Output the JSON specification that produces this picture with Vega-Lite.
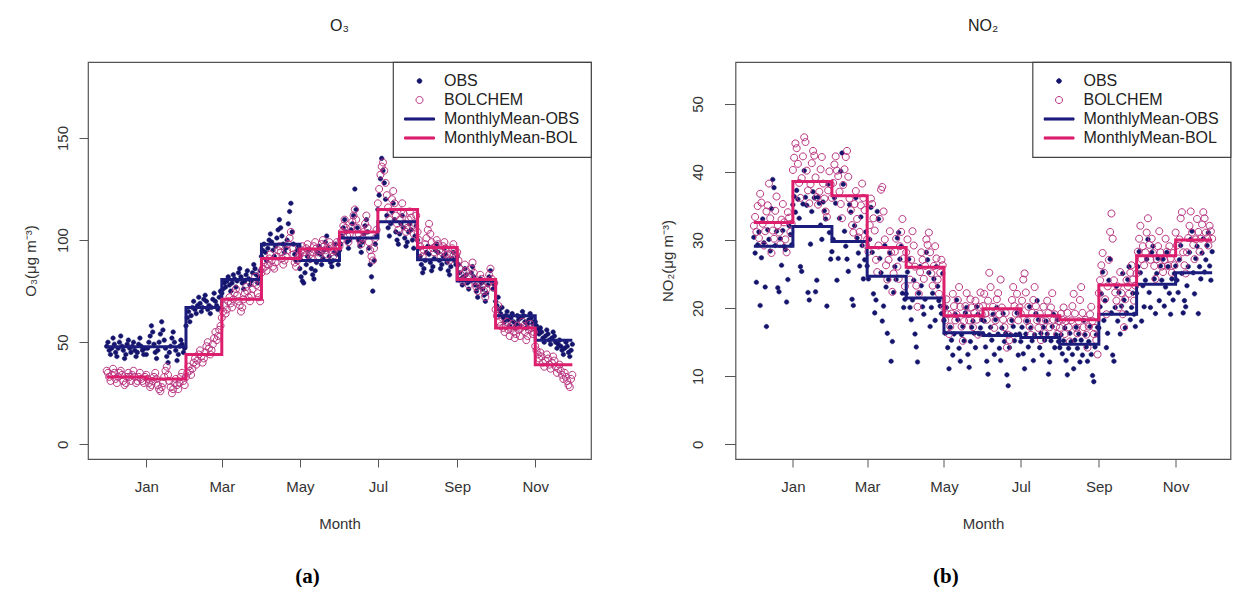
{
"$schema":"https://vega.github.io/schema/vega-lite/v6.json",
"background":"white",
"padding":{"left":22,"top":17,"right":0,"bottom":0},
"spacing":66.5,
"resolve":{"scale":{"fill":"independent","stroke":"independent","shape":"independent"}},
"config":{
 "view":{"stroke":"#555","strokeWidth":1.2},
 "axis":{"domain":false,"grid":false,"tickColor":"#555","labelFont":"Liberation Sans","labelFontSize":15,"labelColor":"#333","titleFont":"Liberation Sans","titleFontSize":15,"titleFontWeight":"normal","titleColor":"#333"},
 "legend":{"orient":"top-right","offset":0,"padding":11,"strokeColor":"#444","strokeWidth":1.2,"fillColor":"white","labelFont":"Liberation Sans","labelFontSize":16,"labelColor":"#222","labelOffset":9,"rowPadding":3,"clipHeight":16,"symbolSize":900,"symbolStrokeWidth":1,"titleFontSize":0,"titlePadding":0}
},
"datasets":{
"daily":[
{"d":"2009-12-01","o3o":48,"o3b":36,"no2o":30.4,"no2b":32.1},
{"d":"2009-12-02","o3o":50,"o3b":35,"no2o":28.1,"no2b":33.4},
{"d":"2009-12-03","o3o":46,"o3b":33,"no2o":23.8,"no2b":31.2},
{"d":"2009-12-04","o3o":44,"o3b":31,"no2o":29.3,"no2b":35.0},
{"d":"2009-12-05","o3o":47,"o3b":34,"no2o":31.2,"no2b":30.3},
{"d":"2009-12-06","o3o":52,"o3b":37,"no2o":20.4,"no2b":36.8},
{"d":"2009-12-07","o3o":49,"o3b":35,"no2o":27.4,"no2b":35.5},
{"d":"2009-12-08","o3o":45,"o3b":32,"no2o":33.1,"no2b":32.4},
{"d":"2009-12-09","o3o":43,"o3b":30,"no2o":29.6,"no2b":29.2},
{"d":"2009-12-10","o3o":47,"o3b":33,"no2o":23.1,"no2b":31.3},
{"d":"2009-12-11","o3o":50,"o3b":35,"no2o":17.3,"no2b":34.2},
{"d":"2009-12-12","o3o":53,"o3b":36,"no2o":31.5,"no2b":35.1},
{"d":"2009-12-13","o3o":48,"o3b":34,"no2o":30.1,"no2b":38.3},
{"d":"2009-12-14","o3o":46,"o3b":31,"no2o":28.4,"no2b":33.2},
{"d":"2009-12-15","o3o":42,"o3b":29,"no2o":34.6,"no2b":28.1},
{"d":"2009-12-16","o3o":44,"o3b":30,"no2o":38.9,"no2b":31.4},
{"d":"2009-12-17","o3o":49,"o3b":33,"no2o":37.7,"no2b":30.2},
{"d":"2009-12-18","o3o":51,"o3b":35,"no2o":29.2,"no2b":34.3},
{"d":"2009-12-19","o3o":47,"o3b":33,"no2o":31.3,"no2b":36.4},
{"d":"2009-12-20","o3o":45,"o3b":31,"no2o":23.0,"no2b":32.2},
{"d":"2009-12-21","o3o":48,"o3b":34,"no2o":22.4,"no2b":31.1},
{"d":"2009-12-22","o3o":50,"o3b":36,"no2o":30.2,"no2b":29.4},
{"d":"2009-12-23","o3o":46,"o3b":33,"no2o":26.3,"no2b":33.0},
{"d":"2009-12-24","o3o":43,"o3b":30,"no2o":31.4,"no2b":35.3},
{"d":"2009-12-25","o3o":45,"o3b":31,"no2o":29.1,"no2b":32.6},
{"d":"2009-12-26","o3o":49,"o3b":33,"no2o":28.6,"no2b":30.1},
{"d":"2009-12-27","o3o":52,"o3b":35,"no2o":20.9,"no2b":28.2},
{"d":"2009-12-28","o3o":48,"o3b":32,"no2o":24.2,"no2b":34.1},
{"d":"2009-12-29","o3o":46,"o3b":31,"no2o":32.1,"no2b":33.3},
{"d":"2009-12-30","o3o":44,"o3b":30,"no2o":30.8,"no2b":31.2},
{"d":"2009-12-31","o3o":47,"o3b":33,"no2o":29.3,"no2b":32.4},
{"d":"2010-01-01","o3o":44,"o3b":34,"no2o":35.2,"no2b":40.3},
{"d":"2010-01-02","o3o":47,"o3b":32,"no2o":36.4,"no2b":42.1},
{"d":"2010-01-03","o3o":50,"o3b":30,"no2o":34.1,"no2b":44.2},
{"d":"2010-01-04","o3o":53,"o3b":28,"no2o":37.3,"no2b":43.5},
{"d":"2010-01-05","o3o":58,"o3b":29,"no2o":36.0,"no2b":41.2},
{"d":"2010-01-06","o3o":55,"o3b":31,"no2o":33.2,"no2b":38.4},
{"d":"2010-01-07","o3o":49,"o3b":33,"no2o":26.1,"no2b":36.2},
{"d":"2010-01-08","o3o":45,"o3b":35,"no2o":25.4,"no2b":39.1},
{"d":"2010-01-09","o3o":42,"o3b":32,"no2o":35.3,"no2b":42.3},
{"d":"2010-01-10","o3o":46,"o3b":29,"no2o":40.2,"no2b":45.1},
{"d":"2010-01-11","o3o":50,"o3b":27,"no2o":36.3,"no2b":44.4},
{"d":"2010-01-12","o3o":54,"o3b":26,"no2o":35.1,"no2b":40.2},
{"d":"2010-01-13","o3o":60,"o3b":28,"no2o":22.3,"no2b":37.3},
{"d":"2010-01-14","o3o":56,"o3b":30,"no2o":21.2,"no2b":35.4},
{"d":"2010-01-15","o3o":51,"o3b":33,"no2o":29.4,"no2b":38.2},
{"d":"2010-01-16","o3o":47,"o3b":36,"no2o":34.2,"no2b":41.3},
{"d":"2010-01-17","o3o":43,"o3b":38,"no2o":37.1,"no2b":43.1},
{"d":"2010-01-18","o3o":40,"o3b":34,"no2o":36.2,"no2b":42.4},
{"d":"2010-01-19","o3o":45,"o3b":31,"no2o":22.4,"no2b":39.2},
{"d":"2010-01-20","o3o":48,"o3b":28,"no2o":24.1,"no2b":36.3},
{"d":"2010-01-21","o3o":52,"o3b":25,"no2o":36.3,"no2b":35.2},
{"d":"2010-01-22","o3o":55,"o3b":27,"no2o":35.4,"no2b":37.1},
{"d":"2010-01-23","o3o":50,"o3b":30,"no2o":32.2,"no2b":40.4},
{"d":"2010-01-24","o3o":46,"o3b":32,"no2o":30.1,"no2b":42.2},
{"d":"2010-01-25","o3o":41,"o3b":29,"no2o":35.6,"no2b":38.3},
{"d":"2010-01-26","o3o":44,"o3b":27,"no2o":34.3,"no2b":36.1},
{"d":"2010-01-27","o3o":48,"o3b":30,"no2o":33.1,"no2b":34.2},
{"d":"2010-01-28","o3o":51,"o3b":33,"no2o":20.3,"no2b":33.4},
{"d":"2010-01-29","o3o":49,"o3b":35,"no2o":38.2,"no2b":37.3},
{"d":"2010-01-30","o3o":45,"o3b":31,"no2o":31.1,"no2b":40.1},
{"d":"2010-01-31","o3o":47,"o3b":29,"no2o":27.2,"no2b":38.2},
{"d":"2010-02-01","o3o":58,"o3b":33,"no2o":28.3,"no2b":36.2},
{"d":"2010-02-02","o3o":62,"o3b":35,"no2o":30.1,"no2b":38.4},
{"d":"2010-02-03","o3o":65,"o3b":38,"no2o":36.2,"no2b":41.1},
{"d":"2010-02-04","o3o":60,"o3b":36,"no2o":35.4,"no2b":42.3},
{"d":"2010-02-05","o3o":63,"o3b":34,"no2o":24.1,"no2b":40.2},
{"d":"2010-02-06","o3o":67,"o3b":37,"no2o":27.3,"no2b":39.4},
{"d":"2010-02-07","o3o":70,"o3b":40,"no2o":33.2,"no2b":37.1},
{"d":"2010-02-08","o3o":66,"o3b":42,"no2o":40.1,"no2b":35.3},
{"d":"2010-02-09","o3o":64,"o3b":39,"no2o":42.8,"no2b":33.2},
{"d":"2010-02-10","o3o":68,"o3b":41,"no2o":38.2,"no2b":38.1},
{"d":"2010-02-11","o3o":72,"o3b":44,"no2o":31.3,"no2b":40.4},
{"d":"2010-02-12","o3o":69,"o3b":46,"no2o":29.1,"no2b":42.2},
{"d":"2010-02-13","o3o":65,"o3b":43,"no2o":27.2,"no2b":43.1},
{"d":"2010-02-14","o3o":67,"o3b":40,"no2o":25.4,"no2b":39.3},
{"d":"2010-02-15","o3o":71,"o3b":42,"no2o":35.2,"no2b":36.1},
{"d":"2010-02-16","o3o":73,"o3b":45,"no2o":34.1,"no2b":34.4},
{"d":"2010-02-17","o3o":70,"o3b":48,"no2o":21.3,"no2b":32.2},
{"d":"2010-02-18","o3o":66,"o3b":50,"no2o":20.4,"no2b":31.1},
{"d":"2010-02-19","o3o":68,"o3b":47,"no2o":32.1,"no2b":35.3},
{"d":"2010-02-20","o3o":64,"o3b":44,"no2o":36.2,"no2b":37.2},
{"d":"2010-02-21","o3o":67,"o3b":46,"no2o":30.3,"no2b":33.1},
{"d":"2010-02-22","o3o":71,"o3b":49,"no2o":28.1,"no2b":30.4},
{"d":"2010-02-23","o3o":74,"o3b":52,"no2o":26.2,"no2b":31.2},
{"d":"2010-02-24","o3o":70,"o3b":55,"no2o":33.4,"no2b":35.1},
{"d":"2010-02-25","o3o":68,"o3b":51,"no2o":29.2,"no2b":38.3},
{"d":"2010-02-26","o3o":66,"o3b":53,"no2o":24.3,"no2b":36.2},
{"d":"2010-02-27","o3o":72,"o3b":56,"no2o":27.1,"no2b":34.4},
{"d":"2010-02-28","o3o":75,"o3b":58,"no2o":31.2,"no2b":29.3},
{"d":"2010-03-01","o3o":74,"o3b":62,"no2o":26.2,"no2b":30.1},
{"d":"2010-03-02","o3o":76,"o3b":65,"no2o":24.3,"no2b":28.3},
{"d":"2010-03-03","o3o":79,"o3b":68,"no2o":30.1,"no2b":32.2},
{"d":"2010-03-04","o3o":77,"o3b":64,"no2o":34.8,"no2b":36.1},
{"d":"2010-03-05","o3o":80,"o3b":66,"no2o":28.2,"no2b":35.3},
{"d":"2010-03-06","o3o":82,"o3b":70,"no2o":22.1,"no2b":33.2},
{"d":"2010-03-07","o3o":78,"o3b":72,"no2o":19.3,"no2b":31.4},
{"d":"2010-03-08","o3o":75,"o3b":69,"no2o":21.2,"no2b":27.1},
{"d":"2010-03-09","o3o":79,"o3b":67,"no2o":34.2,"no2b":25.3},
{"d":"2010-03-10","o3o":83,"o3b":71,"no2o":33.1,"no2b":29.2},
{"d":"2010-03-11","o3o":81,"o3b":74,"no2o":27.3,"no2b":33.1},
{"d":"2010-03-12","o3o":77,"o3b":76,"no2o":25.2,"no2b":37.4},
{"d":"2010-03-13","o3o":80,"o3b":73,"no2o":18.1,"no2b":37.8},
{"d":"2010-03-14","o3o":84,"o3b":70,"no2o":20.3,"no2b":34.2},
{"d":"2010-03-15","o3o":86,"o3b":68,"no2o":29.2,"no2b":30.1},
{"d":"2010-03-16","o3o":82,"o3b":65,"no2o":23.1,"no2b":26.3},
{"d":"2010-03-17","o3o":79,"o3b":67,"no2o":16.3,"no2b":24.2},
{"d":"2010-03-18","o3o":76,"o3b":71,"no2o":24.2,"no2b":27.1},
{"d":"2010-03-19","o3o":80,"o3b":74,"no2o":28.1,"no2b":31.3},
{"d":"2010-03-20","o3o":83,"o3b":77,"no2o":12.2,"no2b":28.2},
{"d":"2010-03-21","o3o":85,"o3b":75,"no2o":15.1,"no2b":22.4},
{"d":"2010-03-22","o3o":81,"o3b":72,"no2o":22.3,"no2b":25.1},
{"d":"2010-03-23","o3o":78,"o3b":70,"no2o":26.1,"no2b":28.3},
{"d":"2010-03-24","o3o":80,"o3b":73,"no2o":24.2,"no2b":30.2},
{"d":"2010-03-25","o3o":84,"o3b":76,"no2o":30.3,"no2b":26.1},
{"d":"2010-03-26","o3o":88,"o3b":79,"no2o":31.1,"no2b":24.3},
{"d":"2010-03-27","o3o":86,"o3b":82,"no2o":27.2,"no2b":29.1},
{"d":"2010-03-28","o3o":83,"o3b":78,"no2o":29.1,"no2b":31.2},
{"d":"2010-03-29","o3o":79,"o3b":74,"no2o":22.2,"no2b":33.1},
{"d":"2010-03-30","o3o":82,"o3b":72,"no2o":20.1,"no2b":27.3},
{"d":"2010-03-31","o3o":85,"o3b":70,"no2o":21.3,"no2b":23.2},
{"d":"2010-04-01","o3o":92,"o3b":84,"no2o":22.1,"no2b":28.2},
{"d":"2010-04-02","o3o":95,"o3b":86,"no2o":25.3,"no2b":30.1},
{"d":"2010-04-03","o3o":98,"o3b":89,"no2o":27.2,"no2b":26.3},
{"d":"2010-04-04","o3o":94,"o3b":87,"no2o":20.1,"no2b":24.2},
{"d":"2010-04-05","o3o":90,"o3b":85,"no2o":18.3,"no2b":27.1},
{"d":"2010-04-06","o3o":96,"o3b":88,"no2o":21.2,"no2b":31.3},
{"d":"2010-04-07","o3o":100,"o3b":91,"no2o":24.1,"no2b":29.2},
{"d":"2010-04-08","o3o":103,"o3b":93,"no2o":16.2,"no2b":26.1},
{"d":"2010-04-09","o3o":99,"o3b":90,"no2o":14.3,"no2b":23.3},
{"d":"2010-04-10","o3o":95,"o3b":87,"no2o":12.1,"no2b":20.2},
{"d":"2010-04-11","o3o":92,"o3b":86,"no2o":22.2,"no2b":22.1},
{"d":"2010-04-12","o3o":97,"o3b":89,"no2o":26.1,"no2b":25.3},
{"d":"2010-04-13","o3o":101,"o3b":92,"no2o":23.3,"no2b":28.2},
{"d":"2010-04-14","o3o":105,"o3b":95,"no2o":20.2,"no2b":27.1},
{"d":"2010-04-15","o3o":110,"o3b":97,"no2o":19.1,"no2b":24.3},
{"d":"2010-04-16","o3o":106,"o3b":94,"no2o":21.3,"no2b":26.2},
{"d":"2010-04-17","o3o":102,"o3b":91,"no2o":28.2,"no2b":30.1},
{"d":"2010-04-18","o3o":98,"o3b":88,"no2o":27.1,"no2b":29.3},
{"d":"2010-04-19","o3o":94,"o3b":90,"no2o":25.2,"no2b":31.1},
{"d":"2010-04-20","o3o":96,"o3b":92,"no2o":17.3,"no2b":28.2},
{"d":"2010-04-21","o3o":100,"o3b":95,"no2o":20.1,"no2b":25.1},
{"d":"2010-04-22","o3o":108,"o3b":98,"no2o":22.2,"no2b":23.3},
{"d":"2010-04-23","o3o":114,"o3b":101,"no2o":24.3,"no2b":26.2},
{"d":"2010-04-24","o3o":118,"o3b":104,"no2o":18.2,"no2b":29.1},
{"d":"2010-04-25","o3o":104,"o3b":96,"no2o":26.1,"no2b":27.3},
{"d":"2010-04-26","o3o":98,"o3b":93,"no2o":23.2,"no2b":24.2},
{"d":"2010-04-27","o3o":93,"o3b":89,"no2o":21.1,"no2b":22.1},
{"d":"2010-04-28","o3o":90,"o3b":87,"no2o":20.3,"no2b":25.2},
{"d":"2010-04-29","o3o":95,"o3b":90,"no2o":19.2,"no2b":27.1},
{"d":"2010-04-30","o3o":97,"o3b":92,"no2o":25.1,"no2b":26.3},
{"d":"2010-05-01","o3o":86,"o3b":93,"no2o":18.2,"no2b":20.1},
{"d":"2010-05-02","o3o":82,"o3b":95,"no2o":16.3,"no2b":18.2},
{"d":"2010-05-03","o3o":80,"o3b":97,"no2o":20.1,"no2b":21.3},
{"d":"2010-05-04","o3o":79,"o3b":94,"no2o":14.2,"no2b":19.1},
{"d":"2010-05-05","o3o":84,"o3b":92,"no2o":11.1,"no2b":16.2},
{"d":"2010-05-06","o3o":88,"o3b":96,"no2o":17.2,"no2b":17.3},
{"d":"2010-05-07","o3o":92,"o3b":98,"no2o":15.3,"no2b":19.2},
{"d":"2010-05-08","o3o":95,"o3b":95,"no2o":13.1,"no2b":22.1},
{"d":"2010-05-09","o3o":90,"o3b":93,"no2o":16.2,"no2b":20.3},
{"d":"2010-05-10","o3o":86,"o3b":91,"no2o":19.1,"no2b":18.2},
{"d":"2010-05-11","o3o":83,"o3b":94,"no2o":21.2,"no2b":19.1},
{"d":"2010-05-12","o3o":81,"o3b":97,"no2o":18.3,"no2b":21.2},
{"d":"2010-05-13","o3o":85,"o3b":99,"no2o":14.1,"no2b":23.1},
{"d":"2010-05-14","o3o":89,"o3b":96,"no2o":12.2,"no2b":20.2},
{"d":"2010-05-15","o3o":94,"o3b":94,"no2o":16.1,"no2b":17.3},
{"d":"2010-05-16","o3o":97,"o3b":92,"no2o":17.3,"no2b":15.2},
{"d":"2010-05-17","o3o":93,"o3b":95,"no2o":15.2,"no2b":18.1},
{"d":"2010-05-18","o3o":88,"o3b":98,"no2o":19.3,"no2b":20.3},
{"d":"2010-05-19","o3o":91,"o3b":100,"no2o":20.1,"no2b":22.2},
{"d":"2010-05-20","o3o":95,"o3b":97,"no2o":13.2,"no2b":19.1},
{"d":"2010-05-21","o3o":99,"o3b":95,"no2o":11.3,"no2b":18.2},
{"d":"2010-05-22","o3o":102,"o3b":93,"no2o":15.1,"no2b":21.3},
{"d":"2010-05-23","o3o":96,"o3b":96,"no2o":17.2,"no2b":20.1},
{"d":"2010-05-24","o3o":92,"o3b":99,"no2o":18.1,"no2b":17.2},
{"d":"2010-05-25","o3o":89,"o3b":97,"no2o":16.3,"no2b":19.3},
{"d":"2010-05-26","o3o":87,"o3b":94,"no2o":14.2,"no2b":21.1},
{"d":"2010-05-27","o3o":90,"o3b":92,"no2o":20.2,"no2b":18.3},
{"d":"2010-05-28","o3o":94,"o3b":95,"no2o":19.1,"no2b":16.1},
{"d":"2010-05-29","o3o":98,"o3b":97,"no2o":16.2,"no2b":20.2},
{"d":"2010-05-30","o3o":93,"o3b":99,"no2o":17.1,"no2b":22.3},
{"d":"2010-05-31","o3o":88,"o3b":96,"no2o":18.3,"no2b":19.1},
{"d":"2010-06-01","o3o":95,"o3b":97,"no2o":16.2,"no2b":20.3},
{"d":"2010-06-02","o3o":98,"o3b":100,"no2o":18.1,"no2b":22.1},
{"d":"2010-06-03","o3o":102,"o3b":104,"no2o":14.3,"no2b":19.2},
{"d":"2010-06-04","o3o":106,"o3b":107,"no2o":12.2,"no2b":18.3},
{"d":"2010-06-05","o3o":110,"o3b":110,"no2o":10.3,"no2b":21.1},
{"d":"2010-06-06","o3o":104,"o3b":106,"no2o":16.1,"no2b":25.2},
{"d":"2010-06-07","o3o":99,"o3b":102,"no2o":17.2,"no2b":23.1},
{"d":"2010-06-08","o3o":96,"o3b":99,"no2o":15.3,"no2b":19.3},
{"d":"2010-06-09","o3o":100,"o3b":103,"no2o":19.1,"no2b":20.2},
{"d":"2010-06-10","o3o":105,"o3b":106,"no2o":13.2,"no2b":17.1},
{"d":"2010-06-11","o3o":108,"o3b":109,"no2o":18.3,"no2b":18.2},
{"d":"2010-06-12","o3o":112,"o3b":112,"no2o":20.1,"no2b":21.3},
{"d":"2010-06-13","o3o":125,"o3b":115,"no2o":16.2,"no2b":22.2},
{"d":"2010-06-14","o3o":115,"o3b":110,"no2o":14.1,"no2b":19.1},
{"d":"2010-06-15","o3o":106,"o3b":106,"no2o":12.3,"no2b":24.2},
{"d":"2010-06-16","o3o":100,"o3b":103,"no2o":17.1,"no2b":20.1},
{"d":"2010-06-17","o3o":97,"o3b":100,"no2o":19.2,"no2b":18.3},
{"d":"2010-06-18","o3o":94,"o3b":98,"no2o":15.1,"no2b":17.2},
{"d":"2010-06-19","o3o":99,"o3b":101,"no2o":16.3,"no2b":19.3},
{"d":"2010-06-20","o3o":103,"o3b":104,"no2o":10.2,"no2b":14.2},
{"d":"2010-06-21","o3o":107,"o3b":108,"no2o":8.6,"no2b":16.1},
{"d":"2010-06-22","o3o":110,"o3b":112,"no2o":14.2,"no2b":15.3},
{"d":"2010-06-23","o3o":104,"o3b":106,"no2o":16.1,"no2b":18.1},
{"d":"2010-06-24","o3o":96,"o3b":99,"no2o":18.2,"no2b":21.2},
{"d":"2010-06-25","o3o":88,"o3b":95,"no2o":17.3,"no2b":23.1},
{"d":"2010-06-26","o3o":82,"o3b":92,"no2o":15.2,"no2b":20.3},
{"d":"2010-06-27","o3o":75,"o3b":90,"no2o":16.1,"no2b":19.2},
{"d":"2010-06-28","o3o":90,"o3b":96,"no2o":19.3,"no2b":22.1},
{"d":"2010-06-29","o3o":98,"o3b":101,"no2o":13.1,"no2b":18.2},
{"d":"2010-06-30","o3o":102,"o3b":105,"no2o":16.2,"no2b":20.1},
{"d":"2010-07-01","o3o":115,"o3b":118,"no2o":15.1,"no2b":19.2},
{"d":"2010-07-02","o3o":122,"o3b":125,"no2o":17.2,"no2b":21.1},
{"d":"2010-07-03","o3o":130,"o3b":132,"no2o":13.3,"no2b":24.2},
{"d":"2010-07-04","o3o":140,"o3b":136,"no2o":11.1,"no2b":25.1},
{"d":"2010-07-05","o3o":134,"o3b":138,"no2o":16.2,"no2b":22.3},
{"d":"2010-07-06","o3o":128,"o3b":134,"no2o":18.1,"no2b":18.1},
{"d":"2010-07-07","o3o":120,"o3b":128,"no2o":14.3,"no2b":20.2},
{"d":"2010-07-08","o3o":112,"o3b":122,"no2o":20.2,"no2b":17.3},
{"d":"2010-07-09","o3o":106,"o3b":116,"no2o":17.1,"no2b":16.1},
{"d":"2010-07-10","o3o":102,"o3b":110,"no2o":15.2,"no2b":19.3},
{"d":"2010-07-11","o3o":108,"o3b":114,"no2o":12.3,"no2b":21.2},
{"d":"2010-07-12","o3o":114,"o3b":120,"no2o":16.1,"no2b":23.1},
{"d":"2010-07-13","o3o":118,"o3b":124,"no2o":19.2,"no2b":20.3},
{"d":"2010-07-14","o3o":110,"o3b":118,"no2o":21.1,"no2b":18.2},
{"d":"2010-07-15","o3o":104,"o3b":112,"no2o":18.3,"no2b":17.1},
{"d":"2010-07-16","o3o":100,"o3b":108,"no2o":14.2,"no2b":19.2},
{"d":"2010-07-17","o3o":98,"o3b":105,"no2o":16.3,"no2b":15.3},
{"d":"2010-07-18","o3o":103,"o3b":110,"no2o":13.1,"no2b":18.1},
{"d":"2010-07-19","o3o":108,"o3b":114,"no2o":17.2,"no2b":20.2},
{"d":"2010-07-20","o3o":112,"o3b":118,"no2o":15.3,"no2b":16.3},
{"d":"2010-07-21","o3o":106,"o3b":113,"no2o":18.1,"no2b":18.2},
{"d":"2010-07-22","o3o":101,"o3b":108,"no2o":16.2,"no2b":21.1},
{"d":"2010-07-23","o3o":97,"o3b":104,"no2o":10.3,"no2b":19.3},
{"d":"2010-07-24","o3o":99,"o3b":106,"no2o":12.1,"no2b":17.2},
{"d":"2010-07-25","o3o":104,"o3b":110,"no2o":15.2,"no2b":20.1},
{"d":"2010-07-26","o3o":108,"o3b":114,"no2o":17.3,"no2b":22.2},
{"d":"2010-07-27","o3o":105,"o3b":111,"no2o":19.1,"no2b":18.3},
{"d":"2010-07-28","o3o":100,"o3b":107,"no2o":14.2,"no2b":19.1},
{"d":"2010-07-29","o3o":96,"o3b":103,"no2o":16.1,"no2b":17.3},
{"d":"2010-07-30","o3o":102,"o3b":108,"no2o":18.3,"no2b":16.2},
{"d":"2010-07-31","o3o":107,"o3b":112,"no2o":15.1,"no2b":18.1},
{"d":"2010-08-01","o3o":100,"o3b":104,"no2o":14.2,"no2b":17.1},
{"d":"2010-08-02","o3o":96,"o3b":100,"no2o":16.1,"no2b":19.2},
{"d":"2010-08-03","o3o":92,"o3b":97,"no2o":13.3,"no2b":18.3},
{"d":"2010-08-04","o3o":88,"o3b":94,"no2o":15.2,"no2b":20.1},
{"d":"2010-08-05","o3o":84,"o3b":92,"no2o":17.1,"no2b":16.2},
{"d":"2010-08-06","o3o":86,"o3b":95,"no2o":12.3,"no2b":18.1},
{"d":"2010-08-07","o3o":90,"o3b":98,"no2o":10.2,"no2b":19.3},
{"d":"2010-08-08","o3o":94,"o3b":101,"no2o":14.1,"no2b":17.2},
{"d":"2010-08-09","o3o":97,"o3b":105,"no2o":16.3,"no2b":15.1},
{"d":"2010-08-10","o3o":93,"o3b":108,"no2o":15.1,"no2b":18.2},
{"d":"2010-08-11","o3o":89,"o3b":103,"no2o":13.2,"no2b":20.3},
{"d":"2010-08-12","o3o":85,"o3b":99,"no2o":11.1,"no2b":22.1},
{"d":"2010-08-13","o3o":87,"o3b":96,"no2o":15.3,"no2b":19.2},
{"d":"2010-08-14","o3o":91,"o3b":94,"no2o":17.2,"no2b":17.1},
{"d":"2010-08-15","o3o":95,"o3b":97,"no2o":14.1,"no2b":16.3},
{"d":"2010-08-16","o3o":98,"o3b":100,"no2o":16.2,"no2b":18.1},
{"d":"2010-08-17","o3o":94,"o3b":98,"no2o":12.1,"no2b":21.2},
{"d":"2010-08-18","o3o":90,"o3b":95,"no2o":15.3,"no2b":23.1},
{"d":"2010-08-19","o3o":86,"o3b":92,"no2o":13.1,"no2b":19.3},
{"d":"2010-08-20","o3o":88,"o3b":94,"no2o":18.2,"no2b":17.2},
{"d":"2010-08-21","o3o":92,"o3b":97,"no2o":16.1,"no2b":18.3},
{"d":"2010-08-22","o3o":96,"o3b":99,"no2o":14.3,"no2b":16.1},
{"d":"2010-08-23","o3o":93,"o3b":96,"no2o":12.2,"no2b":14.2},
{"d":"2010-08-24","o3o":89,"o3b":93,"no2o":15.1,"no2b":17.3},
{"d":"2010-08-25","o3o":85,"o3b":91,"no2o":17.3,"no2b":19.1},
{"d":"2010-08-26","o3o":83,"o3b":90,"no2o":13.2,"no2b":20.2},
{"d":"2010-08-27","o3o":87,"o3b":93,"no2o":10.1,"no2b":18.1},
{"d":"2010-08-28","o3o":91,"o3b":96,"no2o":9.2,"no2b":16.2},
{"d":"2010-08-29","o3o":94,"o3b":98,"no2o":14.3,"no2b":17.1},
{"d":"2010-08-30","o3o":90,"o3b":95,"no2o":16.1,"no2b":15.3},
{"d":"2010-08-31","o3o":88,"o3b":93,"no2o":17.2,"no2b":13.2},
{"d":"2010-09-01","o3o":92,"o3b":94,"no2o":17.1,"no2b":22.2},
{"d":"2010-09-02","o3o":88,"o3b":90,"no2o":20.2,"no2b":24.1},
{"d":"2010-09-03","o3o":84,"o3b":86,"no2o":22.1,"no2b":26.3},
{"d":"2010-09-04","o3o":81,"o3b":83,"no2o":25.3,"no2b":28.1},
{"d":"2010-09-05","o3o":78,"o3b":80,"no2o":18.2,"no2b":25.2},
{"d":"2010-09-06","o3o":82,"o3b":84,"no2o":21.1,"no2b":21.3},
{"d":"2010-09-07","o3o":86,"o3b":88,"no2o":14.2,"no2b":19.1},
{"d":"2010-09-08","o3o":83,"o3b":85,"no2o":16.3,"no2b":23.2},
{"d":"2010-09-09","o3o":79,"o3b":81,"no2o":24.1,"no2b":27.1},
{"d":"2010-09-10","o3o":76,"o3b":78,"no2o":27.2,"no2b":31.2},
{"d":"2010-09-11","o3o":80,"o3b":82,"no2o":19.3,"no2b":33.9},
{"d":"2010-09-12","o3o":84,"o3b":86,"no2o":13.1,"no2b":30.2},
{"d":"2010-09-13","o3o":87,"o3b":89,"no2o":12.2,"no2b":24.1},
{"d":"2010-09-14","o3o":82,"o3b":84,"no2o":20.1,"no2b":22.3},
{"d":"2010-09-15","o3o":78,"o3b":80,"no2o":23.2,"no2b":21.1},
{"d":"2010-09-16","o3o":75,"o3b":77,"no2o":18.1,"no2b":23.2},
{"d":"2010-09-17","o3o":72,"o3b":75,"no2o":22.3,"no2b":20.1},
{"d":"2010-09-18","o3o":77,"o3b":79,"no2o":16.2,"no2b":25.3},
{"d":"2010-09-19","o3o":81,"o3b":83,"no2o":20.3,"no2b":22.2},
{"d":"2010-09-20","o3o":79,"o3b":81,"no2o":25.1,"no2b":19.1},
{"d":"2010-09-21","o3o":76,"o3b":78,"no2o":21.2,"no2b":17.2},
{"d":"2010-09-22","o3o":73,"o3b":75,"no2o":17.1,"no2b":21.3},
{"d":"2010-09-23","o3o":70,"o3b":72,"no2o":19.3,"no2b":24.1},
{"d":"2010-09-24","o3o":74,"o3b":76,"no2o":24.2,"no2b":23.2},
{"d":"2010-09-25","o3o":78,"o3b":79,"no2o":26.1,"no2b":22.1},
{"d":"2010-09-26","o3o":82,"o3b":83,"no2o":18.3,"no2b":25.2},
{"d":"2010-09-27","o3o":85,"o3b":86,"no2o":20.1,"no2b":26.3},
{"d":"2010-09-28","o3o":80,"o3b":81,"no2o":22.2,"no2b":24.2},
{"d":"2010-09-29","o3o":76,"o3b":77,"no2o":19.1,"no2b":21.1},
{"d":"2010-09-30","o3o":78,"o3b":79,"no2o":17.3,"no2b":23.3},
{"d":"2010-10-01","o3o":70,"o3b":66,"no2o":22.2,"no2b":25.1},
{"d":"2010-10-02","o3o":68,"o3b":63,"no2o":26.1,"no2b":28.3},
{"d":"2010-10-03","o3o":72,"o3b":68,"no2o":28.3,"no2b":30.2},
{"d":"2010-10-04","o3o":66,"o3b":60,"no2o":25.2,"no2b":32.1},
{"d":"2010-10-05","o3o":64,"o3b":58,"no2o":18.1,"no2b":27.2},
{"d":"2010-10-06","o3o":67,"o3b":62,"no2o":23.3,"no2b":29.1},
{"d":"2010-10-07","o3o":62,"o3b":57,"no2o":20.2,"no2b":26.3},
{"d":"2010-10-08","o3o":60,"o3b":55,"no2o":24.1,"no2b":28.2},
{"d":"2010-10-09","o3o":63,"o3b":58,"no2o":27.2,"no2b":31.1},
{"d":"2010-10-10","o3o":65,"o3b":60,"no2o":30.1,"no2b":33.2},
{"d":"2010-10-11","o3o":61,"o3b":56,"no2o":22.3,"no2b":29.3},
{"d":"2010-10-12","o3o":58,"o3b":53,"no2o":20.1,"no2b":27.1},
{"d":"2010-10-13","o3o":62,"o3b":57,"no2o":28.2,"no2b":30.2},
{"d":"2010-10-14","o3o":64,"o3b":59,"no2o":29.1,"no2b":28.1},
{"d":"2010-10-15","o3o":60,"o3b":55,"no2o":24.3,"no2b":26.2},
{"d":"2010-10-16","o3o":57,"o3b":52,"no2o":19.2,"no2b":24.3},
{"d":"2010-10-17","o3o":59,"o3b":54,"no2o":25.1,"no2b":27.2},
{"d":"2010-10-18","o3o":63,"o3b":58,"no2o":27.3,"no2b":29.1},
{"d":"2010-10-19","o3o":61,"o3b":56,"no2o":21.1,"no2b":31.3},
{"d":"2010-10-20","o3o":58,"o3b":53,"no2o":26.2,"no2b":28.2},
{"d":"2010-10-21","o3o":62,"o3b":57,"no2o":24.1,"no2b":26.1},
{"d":"2010-10-22","o3o":65,"o3b":60,"no2o":27.2,"no2b":25.3},
{"d":"2010-10-23","o3o":63,"o3b":58,"no2o":20.3,"no2b":27.1},
{"d":"2010-10-24","o3o":60,"o3b":55,"no2o":23.1,"no2b":30.2},
{"d":"2010-10-25","o3o":57,"o3b":51,"no2o":28.2,"no2b":28.3},
{"d":"2010-10-26","o3o":59,"o3b":53,"no2o":26.1,"no2b":26.2},
{"d":"2010-10-27","o3o":61,"o3b":56,"no2o":22.2,"no2b":29.1},
{"d":"2010-10-28","o3o":64,"o3b":59,"no2o":19.1,"no2b":27.3},
{"d":"2010-10-29","o3o":62,"o3b":57,"no2o":24.3,"no2b":25.2},
{"d":"2010-10-30","o3o":59,"o3b":54,"no2o":21.2,"no2b":28.1},
{"d":"2010-10-31","o3o":60,"o3b":55,"no2o":25.1,"no2b":26.3},
{"d":"2010-11-01","o3o":60,"o3b":48,"no2o":26.2,"no2b":31.1},
{"d":"2010-11-02","o3o":58,"o3b":46,"no2o":24.1,"no2b":29.2},
{"d":"2010-11-03","o3o":56,"o3b":44,"no2o":22.3,"no2b":27.3},
{"d":"2010-11-04","o3o":54,"o3b":42,"no2o":27.1,"no2b":30.1},
{"d":"2010-11-05","o3o":57,"o3b":45,"no2o":29.2,"no2b":33.2},
{"d":"2010-11-06","o3o":55,"o3b":43,"no2o":25.1,"no2b":34.1},
{"d":"2010-11-07","o3o":52,"o3b":40,"no2o":19.3,"no2b":28.2},
{"d":"2010-11-08","o3o":50,"o3b":38,"no2o":21.1,"no2b":26.3},
{"d":"2010-11-09","o3o":53,"o3b":41,"no2o":20.2,"no2b":25.1},
{"d":"2010-11-10","o3o":56,"o3b":44,"no2o":23.3,"no2b":28.2},
{"d":"2010-11-11","o3o":54,"o3b":42,"no2o":26.1,"no2b":30.3},
{"d":"2010-11-12","o3o":51,"o3b":39,"no2o":28.2,"no2b":32.1},
{"d":"2010-11-13","o3o":49,"o3b":37,"no2o":30.1,"no2b":34.2},
{"d":"2010-11-14","o3o":52,"o3b":40,"no2o":31.3,"no2b":31.1},
{"d":"2010-11-15","o3o":55,"o3b":43,"no2o":25.2,"no2b":29.3},
{"d":"2010-11-16","o3o":53,"o3b":41,"no2o":22.1,"no2b":27.2},
{"d":"2010-11-17","o3o":50,"o3b":38,"no2o":27.3,"no2b":30.1},
{"d":"2010-11-18","o3o":47,"o3b":35,"no2o":29.1,"no2b":33.1},
{"d":"2010-11-19","o3o":49,"o3b":37,"no2o":19.2,"no2b":31.2},
{"d":"2010-11-20","o3o":51,"o3b":39,"no2o":26.1,"no2b":28.3},
{"d":"2010-11-21","o3o":48,"o3b":36,"no2o":24.3,"no2b":30.2},
{"d":"2010-11-22","o3o":46,"o3b":34,"no2o":28.1,"no2b":32.3},
{"d":"2010-11-23","o3o":44,"o3b":32,"no2o":30.2,"no2b":34.1},
{"d":"2010-11-24","o3o":47,"o3b":35,"no2o":25.3,"no2b":33.2},
{"d":"2010-11-25","o3o":50,"o3b":33,"no2o":27.1,"no2b":31.1},
{"d":"2010-11-26","o3o":48,"o3b":31,"no2o":29.2,"no2b":30.3},
{"d":"2010-11-27","o3o":45,"o3b":29,"no2o":31.1,"no2b":29.2},
{"d":"2010-11-28","o3o":43,"o3b":28,"no2o":26.2,"no2b":32.1},
{"d":"2010-11-29","o3o":46,"o3b":32,"no2o":24.1,"no2b":31.3},
{"d":"2010-11-30","o3o":49,"o3b":34,"no2o":28.3,"no2b":30.2}
],
"monthly":[
{"d":"2009-12-01","o3o":47.8,"o3b":33,"no2o":29.1,"no2b":32.6},
{"d":"2010-01-01","o3o":47.8,"o3b":32,"no2o":32,"no2b":38.6},
{"d":"2010-02-01","o3o":67,"o3b":44,"no2o":29.8,"no2b":36.5},
{"d":"2010-03-01","o3o":80.7,"o3b":71,"no2o":24.7,"no2b":28.9},
{"d":"2010-04-01","o3o":98,"o3b":91,"no2o":21.5,"no2b":26},
{"d":"2010-05-01","o3o":90,"o3b":95.6,"no2o":16.4,"no2b":18.9},
{"d":"2010-06-01","o3o":101,"o3b":104,"no2o":16,"no2b":19.9},
{"d":"2010-07-01","o3o":109,"o3b":115,"no2o":15.7,"no2b":18.9},
{"d":"2010-08-01","o3o":90.4,"o3b":96.4,"no2o":14.7,"no2b":18.3},
{"d":"2010-09-01","o3o":80,"o3b":80.7,"no2o":19.1,"no2b":23.4},
{"d":"2010-10-01","o3o":63,"o3b":57,"no2o":23.5,"no2b":27.7},
{"d":"2010-11-01","o3o":51,"o3b":39,"no2o":25.2,"no2b":30},
{"d":"2010-11-30","o3o":51,"o3b":39,"no2o":25.2,"no2b":30}
]
},
"hconcat":[
{"vconcat":[
 {"width":503,"height":397,
  "title":{"text":"O₃","frame":"group","anchor":"middle","offset":27,"fontSize":16,"font":"Liberation Sans","fontWeight":"normal","color":"#222"},
  "layer":[
   {"data":{"name":"daily"},"mark":{"type":"point","filled":true,"opacity":1,"strokeWidth":0.5,"size":900},
    "encoding":{
     "x":{"field":"d","type":"temporal","title":"Month",
      "scale":{"type":"utc","nice":false,"domain":[{"year":2009,"month":11,"date":16,"hours":10,"utc":true},{"year":2010,"month":12,"date":14,"hours":14,"utc":true}]},
      "axis":{"values":[{"year":2010,"month":1,"date":1,"utc":true},{"year":2010,"month":3,"date":1,"utc":true},{"year":2010,"month":5,"date":1,"utc":true},{"year":2010,"month":7,"date":1,"utc":true},{"year":2010,"month":9,"date":1,"utc":true},{"year":2010,"month":11,"date":1,"utc":true}],
       "labelExpr":"utcFormat(datum.value, '%b')","tickSize":8,"labelPadding":12,"titlePadding":22}},
     "y":{"field":"o3o","type":"quantitative","title":"O₃(μg m⁻³)",
      "scale":{"domain":[-7.2,187.2],"nice":false,"zero":false},
      "axis":{"values":[0,50,100,150],"labelAngle":-90,"labelAlign":"center","labelBaseline":"bottom","tickSize":9,"labelPadding":8.5,"titlePadding":17}},
     "fill":{"datum":"OBS","scale":{"domain":["OBS","BOLCHEM","MonthlyMean-OBS","MonthlyMean-BOL"],"range":["#14146c","transparent","#1c1c7c","#dc1e6c"]}},
     "stroke":{"datum":"OBS","scale":{"domain":["OBS","BOLCHEM","MonthlyMean-OBS","MonthlyMean-BOL"],"range":["#14146c","#b8327f","#1c1c7c","#dc1e6c"]}},
     "shape":{"datum":"OBS","scale":{"domain":["OBS","BOLCHEM","MonthlyMean-OBS","MonthlyMean-BOL"],"range":["M-0.153,0A0.153,0.153,0,1,1,0.153,0A0.153,0.153,0,1,1,-0.153,0Z","M-0.233,0A0.233,0.233,0,1,1,0.233,0A0.233,0.233,0,1,1,-0.233,0Z","M-1,-0.07H1V0.07H-1Z","M-1,-0.07H1V0.07H-1Z"]}}
    }},
   {"data":{"name":"daily"},"mark":{"type":"point","filled":false,"opacity":1,"strokeWidth":1,"size":900},
    "encoding":{"x":{"field":"d","type":"temporal"},"y":{"field":"o3b","type":"quantitative"},
     "fill":{"datum":"BOLCHEM"},"stroke":{"datum":"BOLCHEM"},"shape":{"datum":"BOLCHEM"}}},
   {"data":{"name":"monthly"},"mark":{"type":"line","interpolate":"step-after","strokeWidth":3},
    "encoding":{"x":{"field":"d","type":"temporal"},"y":{"field":"o3o","type":"quantitative"},"stroke":{"datum":"MonthlyMean-OBS"}}},
   {"data":{"name":"monthly"},"mark":{"type":"line","interpolate":"step-after","strokeWidth":3},
    "encoding":{"x":{"field":"d","type":"temporal"},"y":{"field":"o3b","type":"quantitative"},"stroke":{"datum":"MonthlyMean-BOL"}}}
  ]}
 ],
 "resolve":{"scale":{"fill":"independent","stroke":"independent","shape":"independent"}},
 "title":{"text":"(a)","orient":"bottom","anchor":"middle","offset":34,"font":"Liberation Serif","fontSize":21,"fontWeight":"bold","color":"#000"}
},
{"vconcat":[
 {"width":495,"height":397,
  "title":{"text":"NO₂","frame":"group","anchor":"middle","offset":27,"fontSize":16,"font":"Liberation Sans","fontWeight":"normal","color":"#222"},
  "layer":[
   {"data":{"name":"daily"},"mark":{"type":"point","filled":true,"opacity":1,"strokeWidth":0.5,"size":900},
    "encoding":{
     "x":{"field":"d","type":"temporal","title":"Month",
      "scale":{"type":"utc","nice":false,"domain":[{"year":2009,"month":11,"date":16,"hours":10,"utc":true},{"year":2010,"month":12,"date":14,"hours":14,"utc":true}]},
      "axis":{"values":[{"year":2010,"month":1,"date":1,"utc":true},{"year":2010,"month":3,"date":1,"utc":true},{"year":2010,"month":5,"date":1,"utc":true},{"year":2010,"month":7,"date":1,"utc":true},{"year":2010,"month":9,"date":1,"utc":true},{"year":2010,"month":11,"date":1,"utc":true}],
       "labelExpr":"utcFormat(datum.value, '%b')","tickSize":8,"labelPadding":12,"titlePadding":22}},
     "y":{"field":"no2o","type":"quantitative","title":"NO₂(μg m⁻³)",
      "scale":{"domain":[-2.16,56.16],"nice":false,"zero":false},
      "axis":{"values":[0,10,20,30,40,50],"labelAngle":-90,"labelAlign":"center","labelBaseline":"bottom","tickSize":11,"labelPadding":19.5,"titlePadding":14.5}},
     "fill":{"datum":"OBS","scale":{"domain":["OBS","BOLCHEM","MonthlyMean-OBS","MonthlyMean-BOL"],"range":["#14146c","transparent","#1c1c7c","#dc1e6c"]}},
     "stroke":{"datum":"OBS","scale":{"domain":["OBS","BOLCHEM","MonthlyMean-OBS","MonthlyMean-BOL"],"range":["#14146c","#b8327f","#1c1c7c","#dc1e6c"]}},
     "shape":{"datum":"OBS","scale":{"domain":["OBS","BOLCHEM","MonthlyMean-OBS","MonthlyMean-BOL"],"range":["M-0.153,0A0.153,0.153,0,1,1,0.153,0A0.153,0.153,0,1,1,-0.153,0Z","M-0.233,0A0.233,0.233,0,1,1,0.233,0A0.233,0.233,0,1,1,-0.233,0Z","M-1,-0.07H1V0.07H-1Z","M-1,-0.07H1V0.07H-1Z"]}}
    }},
   {"data":{"name":"daily"},"mark":{"type":"point","filled":false,"opacity":1,"strokeWidth":1,"size":900},
    "encoding":{"x":{"field":"d","type":"temporal"},"y":{"field":"no2b","type":"quantitative"},
     "fill":{"datum":"BOLCHEM"},"stroke":{"datum":"BOLCHEM"},"shape":{"datum":"BOLCHEM"}}},
   {"data":{"name":"monthly"},"mark":{"type":"line","interpolate":"step-after","strokeWidth":3},
    "encoding":{"x":{"field":"d","type":"temporal"},"y":{"field":"no2o","type":"quantitative"},"stroke":{"datum":"MonthlyMean-OBS"}}},
   {"data":{"name":"monthly"},"mark":{"type":"line","interpolate":"step-after","strokeWidth":3},
    "encoding":{"x":{"field":"d","type":"temporal"},"y":{"field":"no2b","type":"quantitative"},"stroke":{"datum":"MonthlyMean-BOL"}}}
  ]}
 ],
 "resolve":{"scale":{"fill":"independent","stroke":"independent","shape":"independent"}},
 "title":{"text":"(b)","orient":"bottom","anchor":"middle","offset":34,"font":"Liberation Serif","fontSize":21,"fontWeight":"bold","color":"#000"}
}
]
}
